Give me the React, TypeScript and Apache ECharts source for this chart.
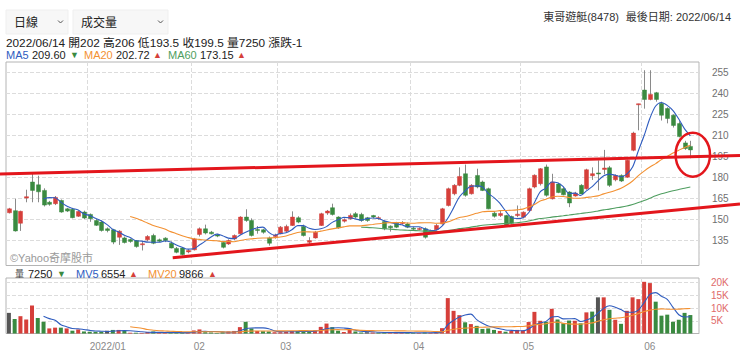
import React, { useEffect, useRef } from "react";
import * as echarts from "echarts";

// ---------- data ----------
const dates: string[] = [
  "2021/12/14","2021/12/15","2021/12/16","2021/12/17","2021/12/20","2021/12/21","2021/12/22","2021/12/23","2021/12/24",
  "2021/12/27","2021/12/28","2021/12/29","2021/12/30","2021/12/31",
  "2022/01/03","2022/01/04","2022/01/05","2022/01/06","2022/01/07","2022/01/10","2022/01/11","2022/01/12","2022/01/13","2022/01/14",
  "2022/01/17","2022/01/18","2022/01/19","2022/01/20","2022/01/21","2022/01/24","2022/01/25","2022/01/26",
  "2022/02/07","2022/02/08","2022/02/09","2022/02/10","2022/02/11","2022/02/14","2022/02/15","2022/02/16","2022/02/17","2022/02/18",
  "2022/02/21","2022/02/22","2022/02/23","2022/02/24","2022/02/25",
  "2022/03/01","2022/03/02","2022/03/03","2022/03/04","2022/03/07","2022/03/08","2022/03/09","2022/03/10","2022/03/11",
  "2022/03/14","2022/03/15","2022/03/16","2022/03/17","2022/03/18","2022/03/21","2022/03/22","2022/03/23","2022/03/24","2022/03/25",
  "2022/03/28","2022/03/29","2022/03/30","2022/03/31",
  "2022/04/01","2022/04/06","2022/04/07","2022/04/08","2022/04/11","2022/04/12","2022/04/13","2022/04/14","2022/04/15",
  "2022/04/18","2022/04/19","2022/04/20","2022/04/21","2022/04/22","2022/04/25","2022/04/26","2022/04/27","2022/04/28","2022/04/29",
  "2022/05/03","2022/05/04","2022/05/05","2022/05/06","2022/05/09","2022/05/10","2022/05/11","2022/05/12","2022/05/13",
  "2022/05/16","2022/05/17","2022/05/18","2022/05/19","2022/05/20","2022/05/23","2022/05/24","2022/05/25","2022/05/26","2022/05/27",
  "2022/05/30","2022/05/31",
  "2022/06/01","2022/06/02","2022/06/06","2022/06/07","2022/06/08","2022/06/09","2022/06/10","2022/06/13","2022/06/14",
];

const opens: number[] = [
  154.5,156,147,165,176.5,174.5,170.5,162,161,163.3,157.3,157,152,155,153.3,149,147.8,143,142.3,137,
  136.5,135.3,134.6,132,135.1,138.2,135.1,136.3,132.7,129,129.3,126.5,128,139,143,140.6,138.5,133.2,132.2,135.8,
  139.4,151.4,149,142.5,142.3,136.5,137.5,139.4,141.3,145.4,150.9,144.7,133.4,136.5,145.4,154.3,158.1,151.4,148.5,150.2,
  153.8,153.3,150.9,152.5,150.5,148.2,144.9,147,147,146.5,143.5,143,143,140.5,142.3,146.5,159.7,168.1,174.1,182.4,
  168.1,181.2,176.5,171.7,154.2,152.5,152.5,151.8,152.5,151.3,156.1,172.9,175.3,187.3,164.5,175,171.7,169.3,166.5,174.1,
  171.7,181,183,185.5,186.7,178.1,181.2,180,199.2,232.5,242.3,235.6,240.4,232.7,229.1,224.3,218.3,204.5,202,
];
const closes: number[] = [
  157.3,141.5,155.5,166,170.5,169.5,160,160.5,165.5,155,155.7,151,155.4,150.7,150.2,145.5,141.8,141.8,133.5,141.3,
  133.2,134,130.3,132.3,137.5,132.7,134.1,134.6,129.3,126.2,124.6,127.5,135.8,143,140,139.4,138,129.8,134.6,138.2,
  151.4,149,138.2,142,140.6,132.7,138.5,144.2,144.7,151.4,147.8,138.2,134.6,140.6,153.8,155.7,153.3,143.7,149.5,152.6,
  151.4,149,149,151.5,151,143,143.7,144.2,147.5,144.2,143,143.3,137,141.5,145.4,157.3,171.7,174.1,180.5,167,
  174.1,173,170.5,157.3,152,154,145.3,147,153.5,154.9,171.7,181.3,186,167,176.5,169,167.3,161.5,168.5,168,
  185.3,182.5,182.5,186.5,174.1,181.2,177.2,192,211.5,232.5,235.6,239.2,235.6,224.3,222,217,209,200.5,199.5,
];
const highs: number[] = [
  158,164.5,156,171,183,181,172,163,166.5,164,158,158,156,156,154,150,149,144,143,142,
  137.5,136,135,134.5,138.5,139.5,136,137,134,130,130,128.5,136.5,144,146,141.5,139.5,134,135.5,139,
  152,157,150.5,145,143,137.5,139.5,145,146,155.5,152,146,137,141.5,154.5,156.5,161,152,150.5,154,
  155,154.5,151.5,153,152,149,145.5,148,148.5,147.5,144.5,144,144,142.5,146.5,158,172.5,175,187,189,
  175,186,177.5,172.5,155.5,156,153,152.5,159.7,155.5,172.5,182,186.5,189,182.4,176,173,170,169.5,175,
  186,187,192,199.5,188,182,182,192.5,212.5,232.5,256.5,256.5,241,234,230,225,220,206,206,
];
const lows: number[] = [
  154,141,141.5,162,162,162,159,159.5,160,154.5,155,150.5,151.5,150,148,145,141,140.5,132,131.5,
  132.5,133,129.5,127.5,134,132,133.5,133.5,129,125.5,124,125.5,127.5,137.5,139,139,137,129,131.5,135,
  139,148,137.5,139.5,139.5,131,136,139,140.5,145,147,137.5,132,136,145,153,152.5,143,147.5,149.5,
  150.5,148,148,150.5,149.5,142,141,143.5,146,143.5,142,142,136,139.5,142,146,159,167,173.5,166,
  167.5,172,170,157,151,151.5,144.5,146,151.3,150.5,155.5,172,174,166,164,168.5,167,158.5,166,168,
  171,178,170.5,182,173,177,176.5,179.5,198.5,213.5,229,235,234,220.5,218.5,215.5,208.5,199.5,193.5,
];
const volumes: number[] = [
  8100,5700,6800,5500,11000,6100,4600,2000,2300,2300,2000,1100,1600,800,700,700,700,1100,1400,1400,
  1100,300,300,200,600,800,300,200,300,400,500,300,1200,1600,500,400,200,500,800,1000,
  2500,4600,2000,1000,900,800,500,500,700,1000,1000,900,600,1200,2600,3900,2500,1100,600,1400,
  800,400,500,400,300,400,300,400,300,300,300,200,400,300,500,2100,13900,8900,7200,4400,
  3700,3000,1800,2000,1400,1000,700,1000,1400,1200,4500,8500,5000,4600,9700,5500,4000,5100,5000,4000,
  8300,8600,14200,14200,9300,5400,3800,8900,14200,13500,20300,19800,12500,7000,7400,4600,5400,8100,7250,
];

const monthStarts: string[] = ["2022/01/03", "2022/02/07", "2022/03/01", "2022/04/01", "2022/05/03", "2022/06/01"];
const monthLabels: string[] = ["2022/01", "02", "03", "04", "05", "06"];
const priceTicks: number[] = [135, 150, 165, 180, 195, 210, 225, 240, 255];
const volumeTicks: number[] = [5000, 10000, 15000, 20000];

// ---------- styles ----------
const FONT = '"Liberation Sans", Arial, "Noto Sans CJK TC", sans-serif';
const RED = "#d63f3a";
const GREEN = "#3a8a40";
const GRAY_BAR = "#555555";
const WICK = "#8a8a8a";
const BLUE = "#2f5cbf";
const ORANGE = "#f39132";
const MGREEN = "#4f9e60";
const ANNOT = "#e3161c";
const MA_START = 2;

function movingAverage(values: number[], n: number): (number | string)[] {
  return values.map((_, i) => {
    if (i - n + 1 < MA_START) return "-";
    let s = 0;
    for (let k = i - n + 1; k <= i; k++) s += values[k];
    return +(s / n).toFixed(2);
  });
}

export default function App() {
  const ref = useRef<HTMLDivElement>(null);
  useEffect(() => {
    document.body.style.margin = "0";
    if (!ref.current) return;
    const chart = echarts.init(ref.current, undefined, { renderer: "svg" });

    const xData = [...dates, ""];
    const monthIdx = monthStarts.map((d) => dates.indexOf(d));
    const isMonth = (i: number) => monthIdx.includes(i);
    const labelFor = (i: number) => monthLabels[monthIdx.indexOf(i)] ?? "";

    const candleData = dates.map((_, i) => [i, opens[i], closes[i], lows[i], highs[i]]);
    const volData = volumes.map((v, i) => {
      let color = GRAY_BAR;
      if (i > 0 && closes[i] > closes[i - 1]) color = RED;
      else if (i > 0 && closes[i] < closes[i - 1]) color = GREEN;
      return { value: v, itemStyle: { color } };
    });

    const txt = (x: number, y: number, text: string, fill: string, size: number, align = "left") => ({
      type: "text",
      x,
      y,
      z: 20,
      silent: true,
      style: { text, fill, fontSize: size, fontFamily: FONT, align, verticalAlign: "middle" },
    });

    const splitLineX = {
      show: true,
      interval: (i: number) => isMonth(i),
      lineStyle: { color: "#dcdcdc", type: "dashed" as const, width: 1 },
    };

    const option: any = {
      animation: false,
      backgroundColor: "#ffffff",
      textStyle: { fontFamily: FONT },
      grid: [
        { left: 6, right: 41, top: 62, height: 203.5, show: true, borderColor: "#b4b4b4", borderWidth: 1, backgroundColor: "transparent" },
        { left: 6, right: 41, top: 278, height: 55.5, show: true, borderColor: "#b4b4b4", borderWidth: 1, backgroundColor: "transparent" },
      ],
      xAxis: [
        {
          type: "category",
          gridIndex: 0,
          data: xData,
          boundaryGap: true,
          axisLine: { show: false },
          axisTick: { show: false },
          axisLabel: { show: false },
          splitLine: splitLineX,
        },
        {
          type: "category",
          gridIndex: 1,
          data: xData,
          boundaryGap: true,
          axisLine: { show: false },
          axisTick: { show: false },
          axisLabel: {
            show: true,
            interval: (i: number) => isMonth(i),
            formatter: (_v: string, i: number) => labelFor(i),
            align: "left",
            color: "#8a8a8a",
            fontSize: 10,
            margin: 8,
            fontFamily: FONT,
          },
          splitLine: splitLineX,
        },
      ],
      yAxis: [
        {
          type: "value",
          gridIndex: 0,
          position: "right",
          min: 116.75,
          max: 262.4,
          axisLine: { show: false },
          axisTick: { show: false, customValues: priceTicks },
          axisLabel: { customValues: priceTicks, color: "#707070", fontSize: 10, margin: 13, fontFamily: FONT },
          splitLine: { show: true, lineStyle: { color: "#dcdcdc", type: "dashed", width: 1 } },
        },
        {
          type: "value",
          gridIndex: 1,
          position: "right",
          min: 0,
          max: 21800,
          axisLine: { show: false },
          axisTick: { show: false, customValues: volumeTicks },
          axisLabel: {
            customValues: volumeTicks,
            color: "#e06a6a",
            fontSize: 10,
            margin: 12,
            fontFamily: FONT,
            formatter: (v: number) => v / 1000 + "K",
          },
          splitLine: { show: true, lineStyle: { color: "#dcdcdc", type: "dashed", width: 1 } },
        },
      ],
      series: [
        {
          name: "K",
          type: "custom",
          xAxisIndex: 0,
          yAxisIndex: 0,
          data: candleData,
          encode: { x: 0, y: [1, 2, 3, 4] },
          clip: true,
          z: 3,
          renderItem: (_params: any, api: any) => {
            const i = api.value(0);
            const o = api.value(1);
            const c = api.value(2);
            const l = api.value(3);
            const h = api.value(4);
            const pO = api.coord([i, o]);
            const pC = api.coord([i, c]);
            const pL = api.coord([i, l]);
            const pH = api.coord([i, h]);
            const w = 4;
            const cx = Math.round(pO[0]) + 0.5;
            const color = c >= o ? RED : GREEN;
            const top = Math.min(pO[1], pC[1]);
            const hgt = Math.max(Math.abs(pO[1] - pC[1]), 1);
            return {
              type: "group",
              children: [
                { type: "line", shape: { x1: cx, y1: pH[1], x2: cx, y2: pL[1] }, style: { stroke: WICK, lineWidth: 1 } },
                { type: "rect", shape: { x: cx - w / 2, y: top, width: w, height: hgt }, style: { fill: color, stroke: color, lineWidth: 0.5 } },
              ],
            };
          },
        },
        { name: "MA5", type: "line", xAxisIndex: 0, yAxisIndex: 0, data: movingAverage(closes, 5), smooth: 0.3, showSymbol: false, lineStyle: { color: BLUE, width: 1.1 }, z: 4 },
        { name: "MA20", type: "line", xAxisIndex: 0, yAxisIndex: 0, data: movingAverage(closes, 20), smooth: 0.3, showSymbol: false, lineStyle: { color: ORANGE, width: 1.1 }, z: 4 },
        { name: "MA60", type: "line", xAxisIndex: 0, yAxisIndex: 0, data: movingAverage(closes, 60), smooth: 0.3, showSymbol: false, lineStyle: { color: MGREEN, width: 1.1 }, z: 4 },
        { name: "量", type: "bar", xAxisIndex: 1, yAxisIndex: 1, data: volData, barWidth: 4, z: 3 },
        { name: "MV5", type: "line", xAxisIndex: 1, yAxisIndex: 1, data: movingAverage(volumes, 5), smooth: 0.3, showSymbol: false, lineStyle: { color: BLUE, width: 1.1 }, z: 4 },
        { name: "MV20", type: "line", xAxisIndex: 1, yAxisIndex: 1, data: movingAverage(volumes, 20), smooth: 0.3, showSymbol: false, lineStyle: { color: ORANGE, width: 1.1 }, z: 4 },
      ],
      graphic: {
        elements: [
          // dropdowns
          { type: "rect", shape: { x: 6, y: 10, width: 62, height: 24 }, style: { fill: "#f7f7f7", stroke: "#efefef" }, z: 10 },
          { type: "rect", shape: { x: 73, y: 10, width: 95, height: 24 }, style: { fill: "#f7f7f7", stroke: "#efefef" }, z: 10 },
          txt(14, 22.5, "日線", "#222", 12),
          txt(81, 22.5, "成交量", "#222", 12),
          { type: "polyline", shape: { points: [[58, 20.5], [60.5, 23], [63, 20.5]] }, style: { stroke: "#555", lineWidth: 1, fill: "none" }, z: 20 },
          { type: "polyline", shape: { points: [[158, 20.5], [160.5, 23], [163, 20.5]] }, style: { stroke: "#555", lineWidth: 1, fill: "none" }, z: 20 },
          // header right
          txt(731, 17, "最後日期: 2022/06/14", "#333", 11, "right"),
          txt(619, 17, "東哥遊艇(8478)", "#333", 11, "right"),
          // header info row
          txt(6, 42.5, "2022/06/14 開202 高206 低193.5 收199.5 量7250 漲跌-1", "#222", 11.8),
          // MA legend
          txt(6, 54.5, "MA5", BLUE, 11),
          txt(32, 54.5, "209.60", "#222", 11),
          txt(70, 54.5, "▼", GREEN, 9),
          txt(84, 54.5, "MA20", ORANGE, 11),
          txt(116, 54.5, "202.72", "#222", 11),
          txt(153, 54.5, "▲", RED, 9),
          txt(168, 54.5, "MA60", MGREEN, 11),
          txt(200, 54.5, "173.15", "#222", 11),
          txt(237, 54.5, "▲", RED, 9),
          // watermark
          txt(10, 258, "©Yahoo奇摩股市", "#9a9a9a", 11),
          // volume legend
          txt(15, 273.5, "量", "#444", 9),
          txt(28, 273.5, "7250", "#222", 11),
          txt(57, 273.5, "▼", GREEN, 9),
          txt(76, 273.5, "MV5", BLUE, 11),
          txt(101, 273.5, "6554", "#222", 11),
          txt(129, 273.5, "▲", RED, 9),
          txt(148, 273.5, "MV20", ORANGE, 11),
          txt(179, 273.5, "9866", "#222", 11),
          txt(208, 273.5, "▲", RED, 9),
          // hand-drawn annotations
          { type: "line", shape: { x1: 0, y1: 174, x2: 740, y2: 155.5 }, style: { stroke: ANNOT, lineWidth: 3 }, z: 30 },
          { type: "line", shape: { x1: 172.7, y1: 257.7, x2: 740, y2: 204 }, style: { stroke: ANNOT, lineWidth: 3 }, z: 30 },
          { type: "ellipse", shape: { cx: 692.8, cy: 154.7, rx: 17.2, ry: 22 }, style: { fill: "none", stroke: ANNOT, lineWidth: 2.5 }, z: 30 },
        ],
      },
    };

    chart.setOption(option);
    return () => chart.dispose();
  }, []);

  return <div ref={ref} style={{ width: 740, height: 359 }} />;
}
